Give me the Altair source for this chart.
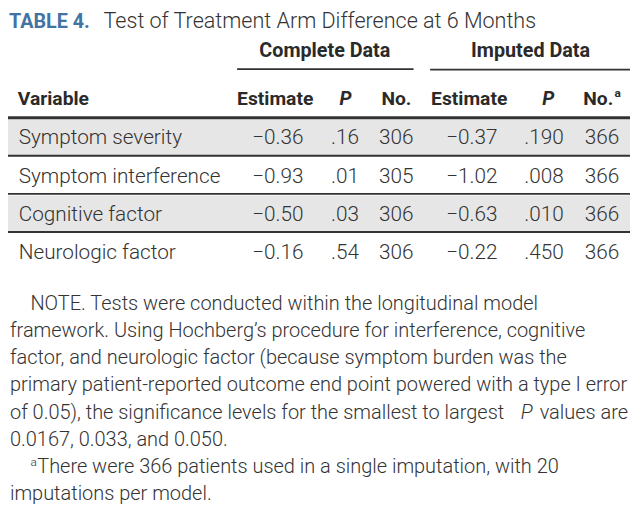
import altair as alt
import pandas as pd

# ---------------- data ----------------
TITLE_LABEL = "TABLE 4."
TITLE_TEXT = "Test of Treatment Arm Difference at 6 Months"
GROUPS = ["Complete Data", "Imputed Data"]
COLUMNS = ["Variable", "Estimate", "P", "No.", "Estimate", "P", "No."]
VARIABLES = ["Symptom severity", "Symptom interference", "Cognitive factor", "Neurologic factor"]
EST_COMPLETE = [-0.36, -0.93, -0.50, -0.16]
P_COMPLETE = [0.16, 0.01, 0.03, 0.54]
N_COMPLETE = [306, 305, 306, 306]
EST_IMPUTED = [-0.37, -1.02, -0.63, -0.22]
P_IMPUTED = [0.190, 0.008, 0.010, 0.450]
N_IMPUTED = [366, 366, 366, 366]
NOTE_LINES = [
    "NOTE. Tests were conducted within the longitudinal model",
    "framework. Using Hochberg\u2019s procedure for interference, cognitive",
    "factor, and neurologic factor (because symptom burden was the",
    "primary patient-reported outcome end point powered with a type I error",
    "of 0.05), the significance levels for the smallest to largest",
    "0.0167, 0.033, and 0.050.",
    "There were 366 patients used in a single imputation, with 20",
    "imputations per model.",
]

# ---------------- layout ----------------
W, H = 638, 525
XS = alt.Scale(domain=[0, W], range=[0, 630])
YS = alt.Scale(domain=[0, H], range=[0, 517])
COL_RIGHT = [None, 303, 360, 416, 502, 570, 627]
HEAD_LEFT = [10, 235, 340, 383, 434, 548, 590]
GROUP_CENTER = [325, 536]
ROW_BASE0, ROW_PITCH = 137, 39.3
NOTE_BASE0, NOTE_PITCH = 307, 28
NOTE_X = [23, 2, 2, 2, 2, 2, 30, 2]

TXT = "#333333"
HEAD = "#2a2a2a"
LIGHT = "Roboto, Lato, 'Liberation Sans', sans-serif"
BOLD = "Roboto, 'Liberation Sans', sans-serif"
NOTE_SIZE = 20.2


def fmt_est(v):
    return ("\u2212" if v < 0 else "") + f"{abs(v):.2f}"


def fmt_p(v, d):
    return f"{v:.{d}f}".lstrip("0")


def text_layer(df, **kw):
    return alt.Chart(df).mark_text(baseline="alphabetic", **kw).encode(
        x=alt.X("x:Q", scale=XS, axis=None),
        y=alt.Y("y:Q", scale=YS, axis=None),
        text="t:N",
    )


layers = []

# row backgrounds
bg = pd.DataFrame([
    {"x": 0, "x2": W, "y": ROW_BASE0 - 26 + i * ROW_PITCH, "y2": ROW_BASE0 + 11 + i * ROW_PITCH}
    for i in range(len(VARIABLES)) if i % 2 == 0
])
layers.append(alt.Chart(bg).mark_rect(color="#e6e6e6").encode(
    x=alt.X("x:Q", scale=XS, axis=None), x2="x2:Q",
    y=alt.Y("y:Q", scale=YS, axis=None), y2="y2:Q"))

# rules
rules = [
    {"x": 235, "x2": 416, "y": 59.5, "w": 2},
    {"x": 433, "x2": W, "y": 60, "w": 2},
    {"x": 0, "x2": W, "y": 109.5, "w": 3},
]
for i in range(1, len(VARIABLES)):
    rules.append({"x": 0, "x2": W, "y": ROW_BASE0 + 11.5 + (i - 1) * ROW_PITCH, "w": 2})
layers.append(alt.Chart(pd.DataFrame(rules)).mark_rule(color="#333333").encode(
    x=alt.X("x:Q", scale=XS, axis=None), x2="x2:Q",
    y=alt.Y("y:Q", scale=YS, axis=None),
    strokeWidth=alt.StrokeWidth("w:Q", scale=None)))

# title
layers.append(text_layer(pd.DataFrame([{"x": 1, "y": 17, "t": TITLE_LABEL}]),
                         align="left", font=BOLD, fontWeight="bold", fontSize=20, color="#4274a3"))
layers.append(text_layer(pd.DataFrame([{"x": 98, "y": 17, "t": TITLE_TEXT}]),
                         align="left", font=LIGHT, fontWeight=300, fontSize=21.8, color=TXT))

# group headers
layers.append(text_layer(pd.DataFrame([{"x": c, "y": 47, "t": g} for c, g in zip(GROUP_CENTER, GROUPS)]),
                         align="center", font=BOLD, fontWeight="bold", fontSize=20, color=HEAD))

# column headers
hdr = [{"x": HEAD_LEFT[i], "y": 96, "t": c} for i, c in enumerate(COLUMNS) if c != "P"]
layers.append(text_layer(pd.DataFrame(hdr), align="left", font=BOLD, fontWeight="bold",
                         fontSize=19.5, color=HEAD))
hdrp = [{"x": HEAD_LEFT[i], "y": 96, "t": c} for i, c in enumerate(COLUMNS) if c == "P"]
layers.append(text_layer(pd.DataFrame(hdrp), align="left", font=BOLD, fontWeight="bold",
                         fontStyle="italic", fontSize=19.5, color=HEAD))
layers.append(text_layer(pd.DataFrame([{"x": 622, "y": 88, "t": "a"}]), align="left", font=BOLD,
                         fontWeight="bold", fontSize=12, color=HEAD))

# body cells
cells_left, cells_right = [], []
for i, v in enumerate(VARIABLES):
    y = ROW_BASE0 + i * ROW_PITCH
    cells_left.append({"x": 11, "y": y, "t": v})
    vals = [fmt_est(EST_COMPLETE[i]), fmt_p(P_COMPLETE[i], 2), str(N_COMPLETE[i]),
            fmt_est(EST_IMPUTED[i]), fmt_p(P_IMPUTED[i], 3), str(N_IMPUTED[i])]
    for j, s in enumerate(vals):
        cells_right.append({"x": COL_RIGHT[j + 1], "y": y, "t": s})
layers.append(text_layer(pd.DataFrame(cells_left), align="left", font=LIGHT, fontWeight=300,
                         fontSize=21, color=TXT))
layers.append(text_layer(pd.DataFrame(cells_right), align="right", font=LIGHT, fontWeight=300,
                         fontSize=21, color=TXT))

# notes
notes = [{"x": NOTE_X[k], "y": NOTE_BASE0 + k * NOTE_PITCH, "t": s} for k, s in enumerate(NOTE_LINES)]
layers.append(text_layer(pd.DataFrame(notes), align="left", font=LIGHT, fontWeight=300,
                         fontSize=NOTE_SIZE, color=TXT))
y4 = NOTE_BASE0 + 4 * NOTE_PITCH
layers.append(text_layer(pd.DataFrame([{"x": 636, "y": y4, "t": "values are"}]), align="right",
                         font=LIGHT, fontWeight=300, fontSize=NOTE_SIZE, color=TXT))
layers.append(text_layer(pd.DataFrame([{"x": 526, "y": y4, "t": "P"}]), align="left",
                         font=LIGHT, fontWeight=300, fontStyle="italic", fontSize=NOTE_SIZE, color=TXT))
layers.append(text_layer(pd.DataFrame([{"x": 23, "y": NOTE_BASE0 + 6 * NOTE_PITCH - 7, "t": "a"}]),
                         align="left", font=LIGHT, fontWeight=300, fontSize=12, color=TXT))

chart = alt.layer(*layers).properties(
    width=630, height=517, padding=0, autosize=alt.AutoSizeParams(type="none")
).configure_view(stroke=None)

chart.save("out.html", embed_options={"renderer": "svg", "actions": False})
